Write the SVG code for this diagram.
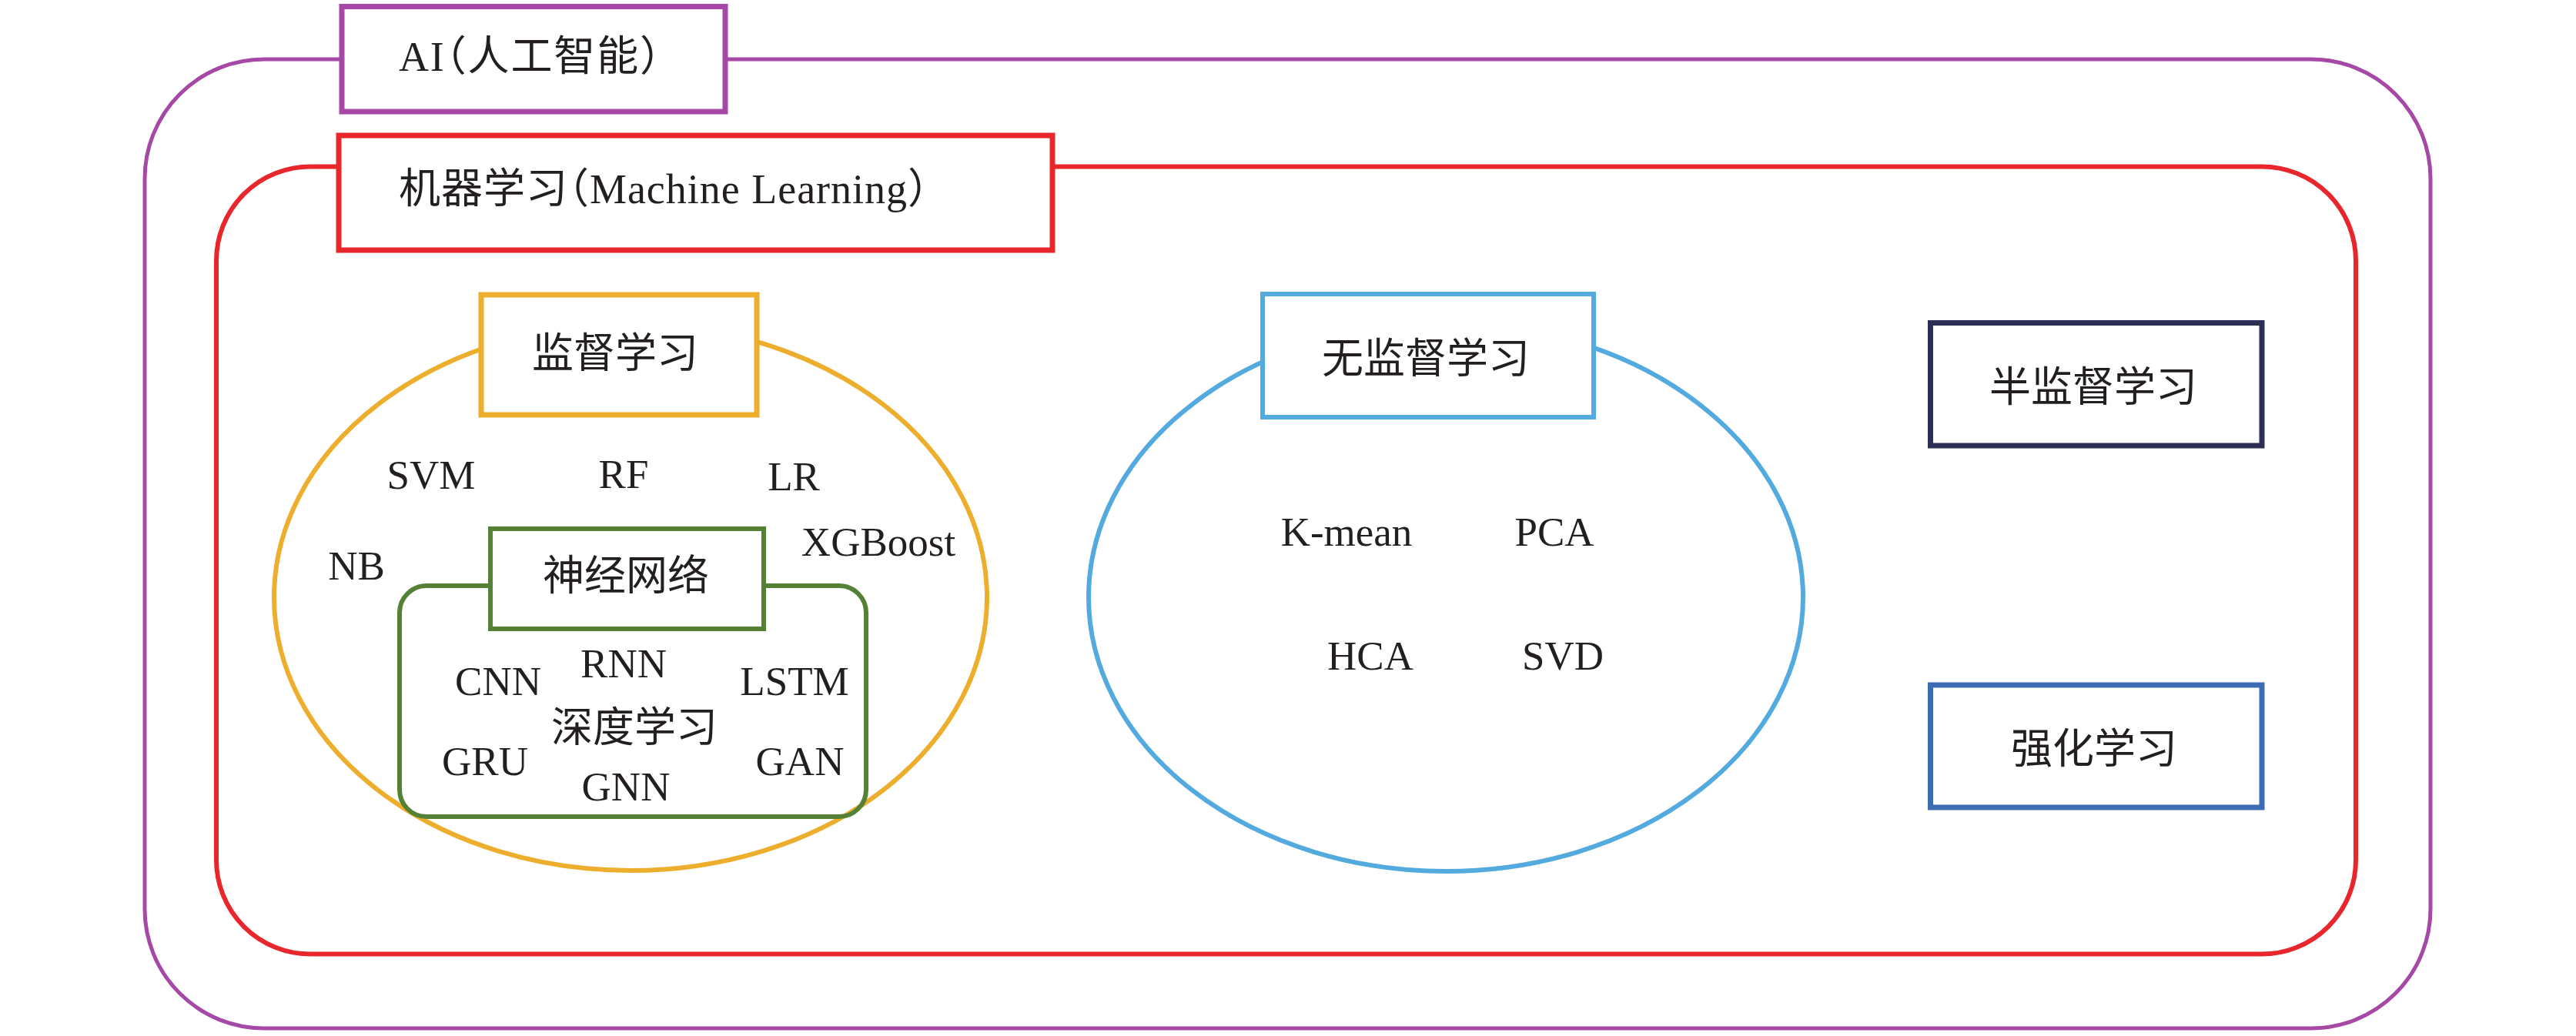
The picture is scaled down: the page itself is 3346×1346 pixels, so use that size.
<svg xmlns="http://www.w3.org/2000/svg" width="3346" height="1346" viewBox="0 0 3346 1346">
  <style>
    .lat { font-family: "Liberation Serif", "Times New Roman", serif; font-size: 53px; fill: #231F20; text-anchor: middle; }
    .cjk { font-family: "Liberation Serif", "Noto Sans CJK SC", serif; font-size: 54px; fill: #231F20; font-feature-settings: "halt"; }
    .mid { text-anchor: middle; }
    .box { fill: #FFFFFF; }
    .frame { fill: none; }
  </style>
  <rect width="3346" height="1346" fill="#FFFFFF"/>

  <g id="containers">
    <rect id="ai-frame" class="frame" x="188" y="77" width="2969" height="1259" rx="155" ry="155" stroke="#A548A6" stroke-width="5"/>
    <rect id="ml-frame" class="frame" x="281" y="216.5" width="2779" height="1023" rx="122" ry="122" stroke="#E8262C" stroke-width="6"/>
    <ellipse id="supervised-ellipse" class="frame" cx="819" cy="776" rx="463" ry="355" stroke="#EEAE2D" stroke-width="6"/>
    <ellipse id="unsupervised-ellipse" class="frame" cx="1878" cy="776" rx="464" ry="356" stroke="#52AADF" stroke-width="6"/>
    <rect id="dl-frame" class="frame" x="519" y="761" width="606" height="300" rx="35" ry="35" stroke="#548135" stroke-width="6"/>
  </g>

  <g id="connectors"></g>

  <g id="node-ai">
    <rect class="box" x="444" y="8.5" width="498" height="136.5" stroke="#A548A6" stroke-width="7"/>
    <text class="cjk" x="518" y="92" textLength="340" lengthAdjust="spacing">AI（人工智能）</text>
  </g>

  <g id="node-ml">
    <rect class="box" x="440" y="176" width="927" height="149" stroke="#E8262C" stroke-width="7"/>
    <text class="cjk" x="518" y="264" textLength="688" lengthAdjust="spacing">机器学习（Machine Learning）</text>
  </g>

  <g id="node-supervised">
    <rect class="box" x="625" y="383" width="358" height="156" stroke="#EEAE2D" stroke-width="7"/>
    <text class="cjk mid" x="799" y="478">监督学习</text>
  </g>

  <g id="supervised-items">
    <text class="lat" x="560" y="635">SVM</text>
    <text class="lat" x="810" y="634">RF</text>
    <text class="lat" x="1031" y="637">LR</text>
    <text class="lat" x="1141" y="722">XGBoost</text>
    <text class="lat" x="463" y="753">NB</text>
  </g>

  <g id="node-nn">
    <rect class="box" x="637" y="687" width="355" height="130" stroke="#548135" stroke-width="6"/>
    <text class="cjk mid" x="813" y="767">神经网络</text>
  </g>

  <g id="dl-items">
    <text class="lat" x="647" y="903">CNN</text>
    <text class="lat" x="810" y="880">RNN</text>
    <text class="lat" x="1032" y="903">LSTM</text>
    <text class="cjk mid" x="824" y="964">深度学习</text>
    <text class="lat" x="630" y="1007">GRU</text>
    <text class="lat" x="813" y="1040">GNN</text>
    <text class="lat" x="1039" y="1007">GAN</text>
  </g>

  <g id="node-unsupervised">
    <rect class="box" x="1640" y="382" width="430" height="160" stroke="#52AADF" stroke-width="6"/>
    <text class="cjk mid" x="1852" y="485">无监督学习</text>
  </g>

  <g id="unsupervised-items">
    <text class="lat" x="1749" y="709">K-mean</text>
    <text class="lat" x="2019" y="709">PCA</text>
    <text class="lat" x="1780" y="870">HCA</text>
    <text class="lat" x="2030" y="870">SVD</text>
  </g>

  <g id="node-semi">
    <rect class="box" x="2507.5" y="419.5" width="430.5" height="159.5" stroke="#2C2E55" stroke-width="7"/>
    <text class="cjk mid" x="2719" y="522">半监督学习</text>
  </g>

  <g id="node-rl">
    <rect class="box" x="2507.5" y="890" width="430.5" height="159" stroke="#3C6DB4" stroke-width="7"/>
    <text class="cjk mid" x="2720" y="992">强化学习</text>
  </g>
</svg>
